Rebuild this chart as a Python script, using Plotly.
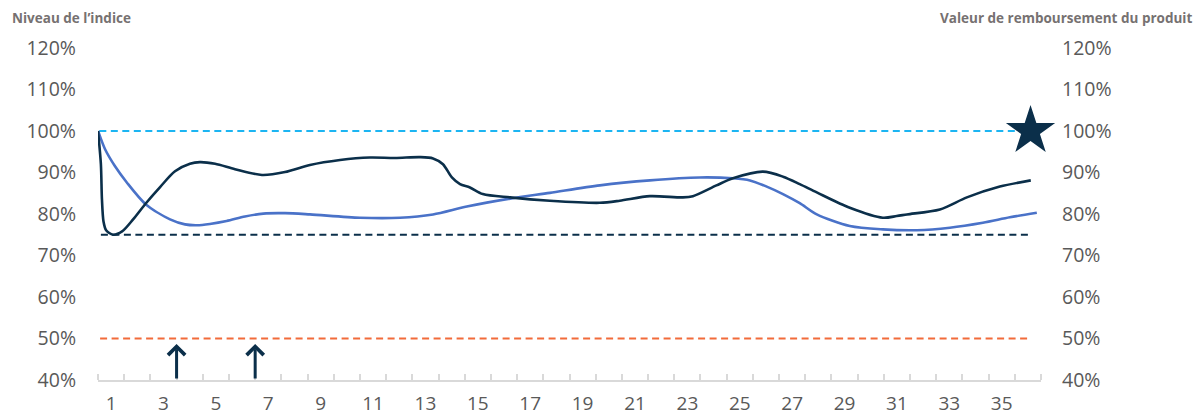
import plotly.graph_objects as go

# ---- data ----
categories = list(range(1, 37))
tick_labels = [str(c) for c in categories if c % 2 == 1]

index_x = [0.50, 0.61, 0.65, 0.71, 0.81, 1.07, 1.42, 1.84, 2.33, 2.87, 3.44, 4.01, 4.39, 4.97,
           5.73, 6.76, 7.64, 8.59, 9.74, 10.88, 11.84, 12.79, 13.29, 13.67, 14.01, 14.32, 14.70,
           15.19, 16.23, 17.75, 19.66, 20.42, 21.57, 22.83, 23.21, 24.11, 24.74, 25.88, 26.65,
           27.29, 27.94, 29.20, 30.46, 30.99, 31.38, 32.64, 33.67, 34.93, 36.11]
index_level = [100.0, 92.0, 83.6, 78.2, 76.1, 75.0, 75.8, 78.7, 82.6, 86.5, 90.3, 92.1, 92.5, 92.1,
               90.8, 89.4, 90.1, 91.8, 93.0, 93.6, 93.5, 93.7, 93.4, 92.0, 88.8, 87.2, 86.4,
               84.8, 84.0, 83.2, 82.7, 83.2, 84.3, 84.0, 84.3, 86.9, 88.6, 90.2, 89.0,
               87.2, 85.2, 81.5, 79.1, 79.5, 79.9, 81.1, 84.0, 86.6, 88.1]

product_x = [0.51, 0.77, 1.15, 1.60, 2.33, 3.25, 3.82, 4.27, 4.77, 5.41, 6.11, 6.81, 7.64, 8.59,
             10.50, 12.03, 13.29, 14.58, 16.23, 17.75, 19.66, 21.57, 23.47, 24.74, 25.39, 26.03,
             26.65, 27.29, 27.94, 29.20, 30.46, 31.76, 33.02, 34.28, 35.31, 36.34]
product_value = [99.9, 95.6, 91.5, 87.6, 82.3, 78.7, 77.5, 77.3, 77.6, 78.3, 79.4, 80.1, 80.2, 79.9,
                 79.1, 79.1, 79.9, 81.8, 83.7, 85.1, 86.9, 88.1, 88.8, 88.6, 88.1, 86.6,
                 84.8, 82.6, 79.9, 77.1, 76.3, 76.1, 76.7, 77.9, 79.2, 80.3]

barrier_levels = [100, 75, 50]            # autocall, coupon/protection, capital barrier
barrier_start = [0.55, 0.61, 0.58]
barrier_end = [36.0, 36.14, 36.14]

arrow_x = [3.5, 6.5]
arrow_base, arrow_tip = 40, 48.7
star_x, star_y = 36.1, 100

y_ticks = [40, 50, 60, 70, 80, 90, 100, 110, 120]

# ---- styles ----
NAVY = "#0b2f4a"
BLUE = "#4a72c8"
CYAN = "#1cb5f2"
ORANGE = "#f26b3a"
GREY_TXT = "#595959"
FONT = "Open Sans"
barrier_colors = [CYAN, NAVY, ORANGE]

# page body has an 8px default margin -> figure is 8px smaller
W, H = 1193, 409
L, R, T, B = 90, 160, 40, 37
PW, PH = W - L - R, H - T - B

fig = go.Figure()

for lvl, x0, x1, col in zip(barrier_levels, barrier_start, barrier_end, barrier_colors):
    fig.add_trace(go.Scatter(x=[x0, x1], y=[lvl, lvl], mode="lines",
                             line=dict(color=col, width=2, dash="7px,4.5px"),
                             hoverinfo="skip", showlegend=False))

fig.add_trace(go.Scatter(x=product_x, y=product_value, mode="lines",
                         line=dict(color=BLUE, width=2.6, shape="spline", smoothing=0.8),
                         showlegend=False))
fig.add_trace(go.Scatter(x=index_x, y=index_level, mode="lines",
                         line=dict(color=NAVY, width=2.6, shape="spline", smoothing=0.8),
                         showlegend=False))

fig.add_trace(go.Scatter(x=[star_x], y=[star_y], mode="markers", yaxis="y2", cliponaxis=False,
                         marker=dict(symbol="star", size=37, color=NAVY),
                         showlegend=False))

for ax_x in arrow_x:
    fig.add_annotation(x=ax_x, y=arrow_tip, ax=ax_x, ay=arrow_base, xref="x", yref="y",
                       axref="x", ayref="y", showarrow=True, arrowhead=4, arrowsize=1.1,
                       arrowwidth=3, arrowcolor=NAVY, text="")

ylab = [f"{v}%" for v in y_ticks]
fig.update_layout(
    width=W, height=H,
    margin=dict(l=L, r=R, t=T, b=B, autoexpand=False),
    paper_bgcolor="white", plot_bgcolor="white",
    font=dict(family=FONT, color=GREY_TXT, size=19.5),
    xaxis=dict(range=[0.5, 36.5], tickvals=[int(t) for t in tick_labels], ticktext=tick_labels,
               ticks="", showgrid=False, zeroline=False, showline=True, automargin=False,
               linecolor="#d9d9d9", linewidth=2, ticklabelstandoff=5,
               tickfont=dict(size=19, color=GREY_TXT, family=FONT),
               minor=dict(ticks="inside", tick0=0.5, dtick=1, ticklen=6,
                          tickcolor="#d9d9d9", tickwidth=1.5)),
    yaxis=dict(range=[40, 120], tickvals=y_ticks, ticktext=ylab, showgrid=False, automargin=False,
               zeroline=False, showline=False, ticks="", ticklabelstandoff=21,
               tickfont=dict(size=19.5, color=GREY_TXT, family=FONT)),
    yaxis2=dict(range=[40, 120], tickvals=y_ticks, ticktext=ylab, overlaying="y", side="right",
                showgrid=False, zeroline=False, showline=False, ticks="", ticklabelstandoff=20,
                automargin=False, tickfont=dict(size=19.5, color=GREY_TXT, family=FONT)),
)

title_y = 1 + (T - 10) / PH
fig.add_annotation(text="<b>Niveau de l’indice</b>", xref="paper", yref="paper",
                   x=(3 - L) / PW, y=title_y, xanchor="left", yanchor="middle", borderpad=0,
                   showarrow=False, font=dict(size=13.5, color="#767171", family=FONT))
fig.add_annotation(text="<b>Valeur de remboursement du produit</b>", xref="paper", yref="paper",
                   x=1 + (R - 8) / PW, y=title_y, xanchor="right", yanchor="middle", borderpad=0,
                   showarrow=False, font=dict(size=13.5, color="#767171", family=FONT))

fig.write_html("out.html")
